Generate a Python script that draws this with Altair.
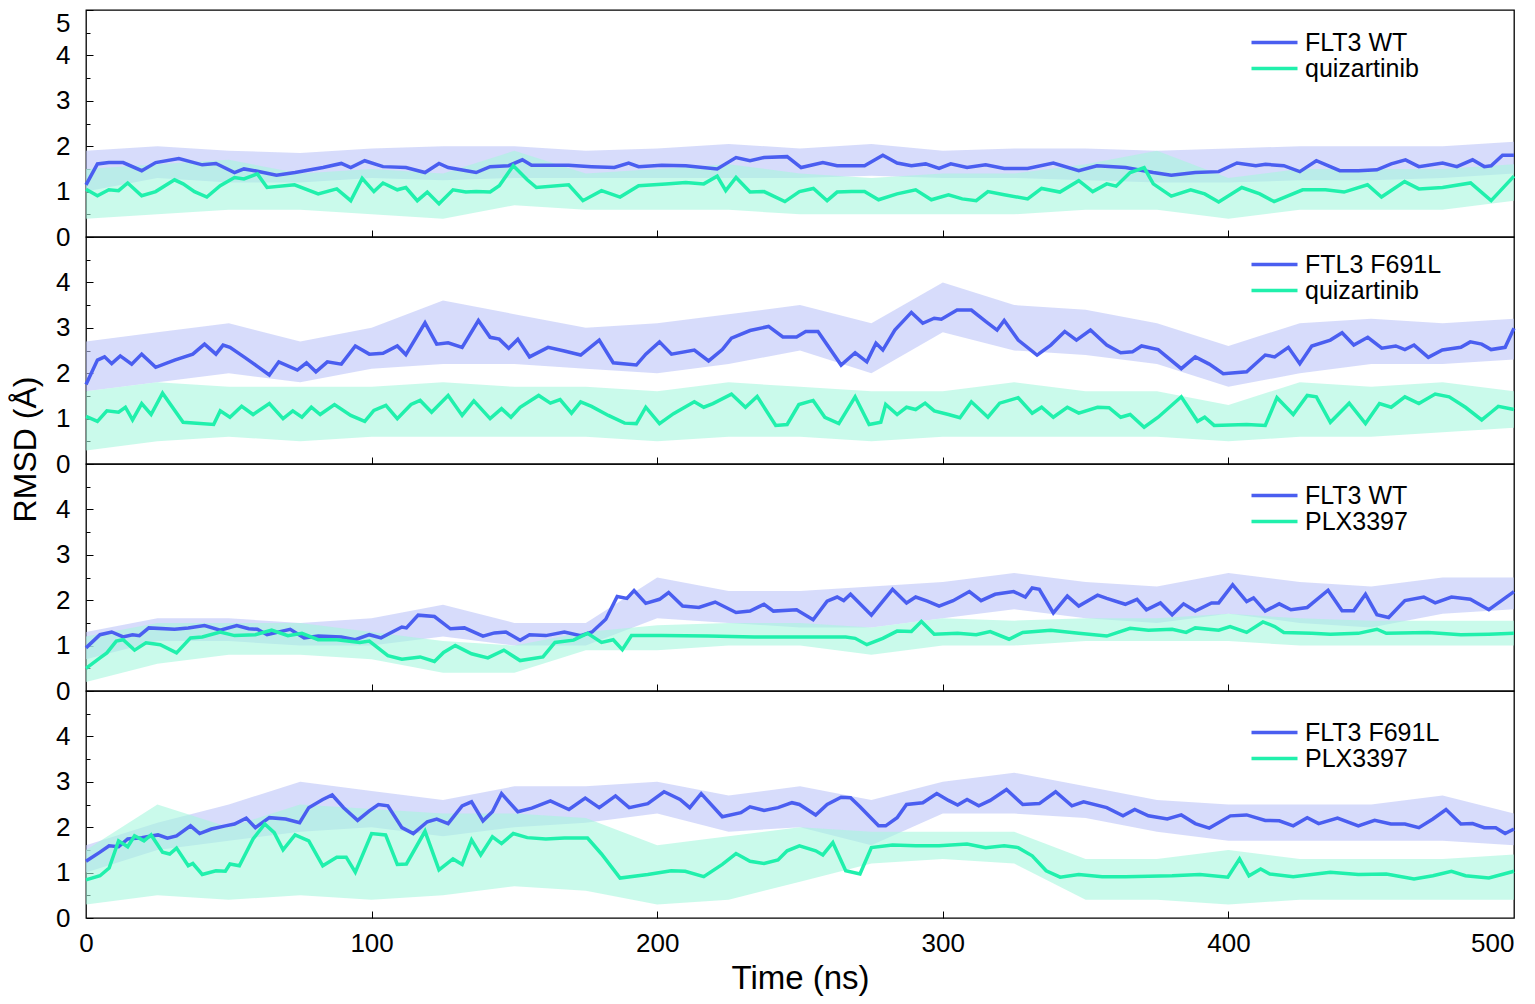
import altair as alt
import pandas as pd

BLUE = "#4a5ef0"
GREEN = "#20f0ac"
BLUE_RAW = "#bcc4f9"
GREEN_RAW = "#a6f6dd"
FONT = "Liberation Sans"
W, H = 1428, 227

legend_names = [["FLT3 WT", "quizartinib"], ["FTL3 F691L", "quizartinib"],
                ["FLT3 WT", "PLX3397"], ["FLT3 F691L", "PLX3397"]]
legend_y = [20, 15, 19, 29]

x_labels = [0, 100, 200, 300, 400, 500]
x_ticks = [100, 200, 300, 400]
y_labels_top = [0, 1, 2, 3, 4, 5]
y_labels = [0, 1, 2, 3, 4]
y_ticks = [0, 0.5, 1, 1.5, 2, 2.5, 3, 3.5, 4, 4.5, 5]

# ---- smoothed traces (time ns, RMSD A) ----
p1_blue = [(0,1.15),(4,1.61),(8,1.64),(13,1.64),(19.5,1.46),(24.4,1.64),(32.5,1.73),(40.7,1.59),(45.5,1.62),(52,1.42),(55.3,1.50),(60,1.45),(66.7,1.36),(73.2,1.42),(83,1.53),(89.4,1.62),(92.7,1.53),(97.6,1.68),(104,1.55),(112,1.53),(118.7,1.42),(123.6,1.62),(126.8,1.53),(136.6,1.42),(141.5,1.55),(148,1.57),(152.8,1.70),(156,1.58),(169,1.58),(177,1.55),(185,1.53),(190,1.63),(193.5,1.55),(201.6,1.58),(210,1.57),(221,1.50),(227.6,1.75),(232.5,1.68),(237.4,1.75),(245.5,1.77),(250.4,1.53),
           (258,1.64),(263,1.57),(272.6,1.57),(279,1.80),(284,1.63),(289,1.57),(294,1.61),(298.7,1.51),(302.8,1.61),(308.5,1.53),(315,1.59),(321.5,1.51),(329.7,1.51),(338.7,1.63),(347.6,1.46),(354,1.57),(364,1.53),(373.7,1.42),(380,1.36),(388.4,1.42),(396.6,1.44),(403,1.63),(409.6,1.57),(413,1.60),(419.4,1.57),(425,1.44),(430.8,1.68),(439,1.46),(445.5,1.46),(452,1.48),(457,1.61),(462,1.70),(466.7,1.55),(475,1.63),(480,1.55),(485.5,1.70),(489.6,1.55),(492,1.57),(496,1.80),(500,1.80)]
p1_green = [(0,1.05),(4,0.91),(8,1.04),(11.4,1.02),(14.6,1.19),(19.5,0.91),(24.4,1.0),(31,1.26),(34,1.17),(38,1.0),(42.3,0.88),(47,1.13),(52,1.31),(55.3,1.28),(60,1.39),(63.4,1.09),(73,1.15),(81.3,0.95),(87.8,1.06),(92.7,0.80),(96.7,1.29),(100.8,1.00),(104,1.19),(109,1.04),(112,1.09),(116,0.80),(119.5,0.99),(123.6,0.73),(128.5,1.04),(133,0.99),(136.6,1.0),(141.5,0.99),(144.7,1.13),(149.6,1.57),(154.5,1.26),(157.7,1.09),(169,1.15),(174,0.80),(180.5,1.02),(187,0.88),(193.5,1.13),(203,1.17),(210,1.20),(216.3,1.17),(221,1.34),(224,1.02),(227.6,1.31),(232.5,0.99),(237.4,1.0),(244.7,0.78),(249.8,1.0),
            (254.7,1.07),(259.5,0.80),(263,0.99),(268,1.0),(272.6,1.0),(277.5,0.82),(284,0.95),(290.5,1.04),(296,0.82),(302,0.93),(306.8,0.84),(311.7,0.80),(315.8,1.0),(321.5,0.93),(329.7,0.84),(334.6,1.07),(341,0.99),(347.6,1.24),(352.5,1.0),(357.4,1.17),(360.7,1.12),(365.6,1.42),(370.5,1.53),(373.7,1.17),(380,0.90),(386.8,1.04),(391.7,0.95),(396.6,0.77),(404.7,1.09),(411,0.95),(416,0.78),(426,1.04),(434,1.04),(440.5,0.99),(448.7,1.15),(453.6,0.88),(461.7,1.22),(466.7,1.06),(475,1.09),(484.8,1.19),(492,0.80),(500,1.34)]
p2_blue = [(0,1.75),(4,2.29),(6.5,2.36),(9,2.21),(12,2.38),(16,2.2),(19.5,2.42),(24.4,2.13),(31,2.29),(37.4,2.42),(41.5,2.64),(45.5,2.42),(48,2.62),(50.4,2.57),(55.3,2.36),(60,2.15),(64.2,1.96),(67.5,2.25),(74,2.07),(77.2,2.23),(80.5,2.03),(84.5,2.25),(89.4,2.2),(94.3,2.6),(99.2,2.42),(104,2.44),(109,2.6),(112,2.41),(118.7,3.11),(122.8,2.64),(126.8,2.67),(131.7,2.57),(137.4,3.16),(141.5,2.79),(144.7,2.75),(148,2.55),(151.2,2.75),(155.3,2.36),(161.8,2.57),(167.5,2.49),(173.2,2.40),(179.7,2.73),(184.6,2.23),(192.7,2.18),(196,2.42),(200.8,2.69),(205,2.42),(213,2.51),(218,2.27),(222.8,2.52),(226,2.77),(232.5,2.94),(239,3.03),(244,2.80),(248.8,2.80),(252,2.92),
           (256.3,2.92),(264.4,2.18),(269.3,2.45),(273.4,2.25),(276.6,2.66),(279,2.51),(283.2,2.95),(289,3.34),(293,3.10),(297,3.21),(299.5,3.19),(305,3.39),(310,3.39),(315,3.14),(319,2.95),(321.5,3.16),(326.4,2.73),(333,2.40),(337.8,2.62),(342.7,2.92),(346.8,2.73),(351.7,2.95),(357.4,2.62),(362.3,2.45),(366.4,2.47),(369.6,2.60),(375.4,2.52),(383.5,2.10),(388.4,2.36),(393.3,2.20),(398.2,1.99),(406.4,2.03),(412.9,2.40),(416.2,2.36),(421,2.57),(425,2.21),(429.2,2.60),(435.7,2.73),(439.8,2.89),(443.9,2.62),(448.8,2.79),(453.7,2.55),(458.6,2.60),(461.8,2.52),(465,2.62),(470,2.35),(474.9,2.51),(481.4,2.57),(484.7,2.69),(488.7,2.64),(492,2.52),(496.9,2.57),(500,2.99)]
p2_green = [(0,1.05),(4,0.94),(7.3,1.17),(11.4,1.14),(13.8,1.25),(16.3,0.97),(19.5,1.33),(22.8,1.09),(26.8,1.56),(34,0.92),(44.7,0.87),(47,1.17),(50.4,1.03),(54.5,1.27),(58.5,1.09),(64.2,1.33),(69,1.0),(72.4,1.17),(75.6,1.03),(78.9,1.25),(82,1.09),(87,1.31),(92.7,1.07),(97.6,0.94),(100.8,1.18),(105,1.29),(109,1.0),(113.8,1.31),(117,1.40),(121,1.14),(126.8,1.51),(131.7,1.07),(135.8,1.39),(141.5,1.0),(145.5,1.22),(148.8,1.03),(152,1.25),(158.5,1.51),(162.6,1.34),(166,1.42),(170,1.12),(173.2,1.37),(177,1.27),(182.9,1.07),(188.6,0.90),(192.7,0.89),(196,1.25),(200.8,0.89),(205.7,1.11),(213,1.37),(216.3,1.25),(219.5,1.33),(226,1.54),(230.9,1.25),(235,1.49),(241.5,0.85),(245.5,0.87),(249.6,1.31),
            (254.6,1.40),(258.7,1.03),(263.6,0.89),(269.3,1.48),(274.2,0.87),(278.3,0.92),(280,1.31),(284,1.09),(287.3,1.25),(290.5,1.20),(293.8,1.34),(297,1.17),(302,1.09),(306,1.02),(310,1.37),(315.8,1.03),(319.9,1.34),(326.4,1.46),(331.3,1.12),(334.6,1.25),(338.7,1.03),(343.6,1.25),(347.6,1.12),(354.2,1.25),(358.2,1.24),(362.3,1.03),(365.6,1.09),(370.5,0.81),(375.4,1.03),(383.5,1.48),(389.2,0.94),(391.7,1.03),(395,0.85),(406.4,0.87),(412.9,0.85),(417,1.46),(422.7,1.09),(427.6,1.51),(430.8,1.48),(435.7,0.92),(442.3,1.34),(448,0.89),(452.9,1.33),(457,1.25),(461.8,1.48),(466.7,1.33),(472.4,1.54),(477.3,1.48),(483,1.25),(488.7,0.97),(492,1.14),(494.5,1.27),(500,1.20)]
p3_blue = [(0,0.95),(4.9,1.24),(9,1.30),(13,1.19),(16.3,1.24),(18.7,1.22),(22,1.39),(31,1.36),(35.8,1.39),(41.5,1.44),(47,1.34),(52.8,1.44),(57,1.37),(60,1.36),(63.4,1.24),(71.5,1.36),(76.4,1.17),(81.3,1.21),(89.4,1.19),(94.3,1.13),(99.2,1.24),(103.3,1.17),(110.6,1.41),(112.2,1.39),(116.3,1.67),(122,1.64),(127.6,1.37),(132.5,1.39),(139,1.21),(143,1.28),(147,1.30),(152,1.12),(155.3,1.24),(161,1.22),(167.5,1.30),(173.2,1.22),(177.2,1.30),(182,1.58),(186,2.08),(189.4,2.04),(191.9,2.21),(196,1.93),(200.8,2.02),(204,2.17),(208.9,1.87),(214.6,1.84),(220.3,1.96),(227.6,1.73),(232.5,1.76),(237.4,1.91),(240.7,1.76),(248.8,1.79),
           (254.6,1.57),(259.5,1.98),(263,2.07),(265.3,1.99),(267.7,2.13),(275,1.67),(282.4,2.24),(287.3,1.94),(290.5,2.07),(294.6,1.98),(298.7,1.87),(303.6,1.99),(309.3,2.19),(313.4,1.99),(318.3,2.13),(324.8,2.19),(328.9,2.07),(331.3,2.27),(333.8,2.24),(338.7,1.72),(343.6,2.09),(347.6,1.87),(354.2,2.11),(357.4,2.04),(363.9,1.91),(368,2.02),(371.3,1.79),(376.2,1.94),(380.3,1.68),(384.3,1.92),(388.4,1.76),(394.1,1.94),(396.6,1.94),(401.5,2.34),(406.4,1.97),(408.8,2.05),(412.9,1.76),(417.8,1.92),(421.9,1.79),(427.6,1.84),(434.9,2.22),(439.8,1.77),(443.9,1.77),(448,2.13),(452,1.68),(456.1,1.62),(461.8,1.99),(468.4,2.07),(472.4,1.94),(478.1,2.07),(484.7,2.02),(491.2,1.79),(494.5,1.94),(500,2.19)]
p3_green = [(0,0.5),(4.9,0.73),(7.3,0.84),(10.6,1.10),(13,1.13),(17,0.90),(21,1.06),(26,1.02),(31.7,0.84),(36.6,1.17),(40.7,1.19),(47,1.30),(52,1.22),(59.3,1.24),(65,1.34),(70.7,1.22),(75.6,1.27),(81.3,1.13),(87.8,1.13),(95.9,1.07),(99.2,1.10),(105.7,0.78),(110.6,0.70),(117,0.75),(122,0.65),(125.2,0.85),(129.3,1.0),(135,0.82),(140.7,0.73),(146.3,0.90),(152,0.67),(160,0.75),(164.2,1.07),(170.7,1.12),(175.6,1.27),(180.5,1.07),(184.6,1.13),(187.8,0.91),(191,1.22),(201.6,1.22),(217.9,1.21),(234,1.19),(249.8,1.19),
            (266,1.19),(269.3,1.16),(273.4,1.02),(279,1.16),(284,1.32),(289,1.31),(292.5,1.53),(297,1.25),(305.2,1.27),(311.7,1.24),(316.6,1.31),(323.2,1.14),(328,1.29),(337.8,1.34),(347.6,1.27),(357.4,1.21),(365.6,1.38),(372,1.34),(380.3,1.36),(385.2,1.29),(388.4,1.39),(396.6,1.34),(400.6,1.42),(406.4,1.29),(412.1,1.52),(416.2,1.42),(419.4,1.29),(429.2,1.27),(435.7,1.25),(445.5,1.27),(452,1.36),(455.3,1.27),(470,1.29),(481.4,1.24),(491.2,1.25),(500,1.27)]
p4_blue = [(0,1.25),(4.9,1.45),(8.1,1.59),(11.4,1.57),(14.6,1.74),(19.5,1.77),(25.2,1.83),(28.5,1.76),(31.7,1.81),(36.6,2.03),(39.8,1.86),(43.9,1.96),(48.8,2.03),(52,2.07),(56.1,2.20),(59.3,1.99),(64.2,2.21),(69.9,2.18),(74.8,2.10),(78,2.43),(82.9,2.61),(86.2,2.71),(90.2,2.43),(95.1,2.15),(99.2,2.36),(102.4,2.50),(105.7,2.47),(110.6,1.99),(114.6,1.86),(119.5,2.12),(122.8,2.18),(126.8,2.08),(131.7,2.47),(135,2.56),(139,2.14),(142.3,2.34),(145.5,2.74),(151.2,2.34),(156.1,2.42),(162.6,2.58),(169.1,2.39),(174.8,2.64),(179.7,2.43),(185.4,2.69),(190.2,2.43),(196.7,2.52),(202.4,2.78),(208,2.61),(211.4,2.43),(215.4,2.74),(222.8,2.23),(229.3,2.32),(232.5,2.45),(237.4,2.37),(242.3,2.43),(247.2,2.54),
           (249.8,2.50),(255.5,2.27),(259.5,2.50),(264.4,2.66),(267.7,2.65),(271,2.45),(277.5,2.03),(280,2.03),(284,2.21),(287.3,2.50),(293,2.54),(297.9,2.74),(302,2.59),(305.2,2.49),(308.5,2.61),(312.6,2.47),(316.6,2.59),(322.3,2.83),(328,2.50),(333.8,2.52),(339.5,2.78),(345.2,2.47),(349.3,2.56),(357.4,2.43),(363.1,2.25),(367.2,2.39),(372,2.25),(378.6,2.18),(383.5,2.27),(388.4,2.08),(393.3,1.98),(400.7,2.25),(406.4,2.27),(412.9,2.15),(417.8,2.14),(422.7,2.03),(427.6,2.21),(431.6,2.08),(438.2,2.20),(445.5,2.03),(451.2,2.15),(456.9,2.07),(461.8,2.07),(466.7,1.99),(471.6,2.18),(476.2,2.39),(481.4,2.07),(485.5,2.08),(489.6,1.99),(493.6,1.99),(496.9,1.86),(500,1.96)]
p4_green = [(0,0.84),(4.9,0.93),(8.1,1.10),(11.4,1.70),(14.6,1.57),(17,1.81),(20.3,1.70),(22.8,1.83),(26.8,1.45),(29.3,1.41),(31.7,1.54),(35.8,1.15),(37.4,1.20),(40.7,0.96),(45.5,1.04),(48.8,1.03),(50.4,1.19),(53.7,1.15),(58.5,1.74),(62.6,2.07),(65.9,1.88),(69,1.50),(73.2,1.83),(78,1.70),(82.9,1.15),(87.8,1.34),(91.1,1.34),(94.3,1.01),(100,1.86),(104.9,1.83),(109,1.18),(112.2,1.19),(118.7,1.91),(123.6,1.06),(128.5,1.30),(131.7,1.18),(135,1.72),(138.2,1.39),(142.3,1.79),(145.5,1.64),(149.6,1.86),(154.5,1.77),(161,1.74),(167.5,1.76),(175.6,1.76),(180.5,1.41),(187,0.88),(196.7,0.96),(204.9,1.04),(209.8,1.03),(216.3,0.91),(222.8,1.18),(227.6,1.42),(232.5,1.25),(237.4,1.20),(242.3,1.28),(245.5,1.48),
            (249.8,1.59),(255.5,1.48),(258,1.39),(261.5,1.66),(266,1.04),(271,0.97),(275,1.55),(282.4,1.61),(290.5,1.59),(298.7,1.59),(308.5,1.63),(315,1.55),(321.5,1.59),(326.4,1.55),(331.3,1.37),(336.2,1.04),(341.1,0.90),(347.6,0.96),(355.8,0.91),(363.9,0.91),(380.3,0.93),(390,0.96),(399.8,0.90),(403.9,1.30),(407.2,0.93),(411.3,1.08),(414.5,0.97),(422.7,0.91),(435.7,1.01),(445.5,0.96),(455.3,0.97),(465,0.86),(471.6,0.93),(478.1,1.03),(483,0.93),(491.2,0.88),(500,1.03)]

# ---- raw-trace envelopes (light background), every 25 ns ----
ENV_T = [0, 25, 50, 75, 100, 125, 150, 175, 200, 225, 250, 275, 300, 325, 350, 375, 400, 425, 450, 475, 500]
p1_blue_lo = [1.0,1.3,1.2,1.2,1.3,1.25,1.3,1.3,1.3,1.3,1.3,1.35,1.3,1.3,1.25,1.2,1.2,1.25,1.25,1.3,1.4]
p1_blue_hi = [1.9,2.0,1.9,1.85,1.95,2.0,2.0,1.9,1.95,2.05,1.95,2.05,1.9,1.95,1.95,1.9,1.95,2.0,2.0,2.0,2.1]
p1_green_lo = [0.4,0.5,0.6,0.6,0.5,0.4,0.7,0.6,0.6,0.6,0.5,0.5,0.5,0.5,0.6,0.6,0.4,0.6,0.6,0.6,0.8]
p1_green_hi = [1.5,1.6,1.7,1.4,1.5,1.4,1.9,1.4,1.5,1.6,1.4,1.3,1.4,1.4,1.6,1.9,1.3,1.5,1.5,1.5,1.6]
p2_blue_lo = [1.6,1.8,2.0,1.8,2.1,2.2,2.2,2.1,2.0,2.2,2.5,2.0,2.9,2.5,2.4,2.2,1.7,2.0,2.2,2.2,2.3]
p2_blue_hi = [2.7,2.9,3.1,2.7,3.0,3.6,3.3,3.0,3.1,3.3,3.5,3.1,4.0,3.5,3.4,3.1,2.6,3.1,3.2,3.1,3.2]
p2_green_lo = [0.3,0.5,0.6,0.5,0.6,0.6,0.6,0.6,0.5,0.6,0.6,0.5,0.6,0.6,0.6,0.6,0.5,0.6,0.6,0.7,0.8]
p2_green_hi = [1.6,1.8,1.7,1.7,1.7,1.8,1.7,1.7,1.6,1.8,1.7,1.6,1.6,1.8,1.6,1.6,1.3,1.8,1.7,1.8,1.6]
p3_blue_lo = [0.7,1.1,1.1,1.0,1.0,1.2,1.0,1.0,1.6,1.5,1.4,1.4,1.6,1.8,1.6,1.5,1.7,1.5,1.4,1.7,1.8]
p3_blue_hi = [1.3,1.6,1.6,1.5,1.6,1.9,1.5,1.5,2.5,2.2,2.2,2.3,2.4,2.6,2.4,2.3,2.6,2.4,2.3,2.5,2.5]
p3_green_lo = [0.2,0.6,0.8,0.8,0.7,0.4,0.4,0.9,0.9,1.0,1.0,0.8,1.0,1.0,1.1,1.1,1.1,1.0,1.0,1.0,1.0]
p3_green_hi = [1.2,1.5,1.5,1.5,1.3,1.1,1.0,1.3,1.45,1.5,1.5,1.4,1.6,1.55,1.6,1.6,1.7,1.6,1.55,1.55,1.55]
p4_blue_lo = [1.0,1.5,1.7,1.9,2.0,1.8,2.0,2.1,2.3,1.9,2.0,1.6,2.3,2.3,2.2,1.9,1.7,1.7,1.7,1.7,1.6]
p4_blue_hi = [1.6,2.1,2.5,3.0,2.8,2.6,2.9,2.9,3.0,2.7,2.9,2.6,3.0,3.2,2.9,2.6,2.5,2.5,2.5,2.7,2.3]
p4_green_lo = [0.3,0.5,0.4,0.5,0.4,0.5,0.7,0.6,0.3,0.4,0.8,1.2,1.3,1.2,0.4,0.4,0.3,0.4,0.4,0.4,0.4]
p4_green_hi = [1.5,2.5,2.0,2.5,2.4,2.3,2.3,2.2,1.6,1.8,2.0,1.9,1.9,1.9,1.3,1.3,1.5,1.3,1.3,1.3,1.4]

panels_data = [
    (p1_blue, p1_green, (p1_blue_lo, p1_blue_hi, p1_green_lo, p1_green_hi)),
    (p2_blue, p2_green, (p2_blue_lo, p2_blue_hi, p2_green_lo, p2_green_hi)),
    (p3_blue, p3_green, (p3_blue_lo, p3_blue_hi, p3_green_lo, p3_green_hi)),
    (p4_blue, p4_green, (p4_blue_lo, p4_blue_hi, p4_green_lo, p4_green_hi)),
]


def make_panel(i):
    blue_pts, green_pts, env = panels_data[i]
    pname, lname = legend_names[i]
    dfb = pd.DataFrame(blue_pts, columns=["t", "v"])
    dfb["s"] = pname
    dfg = pd.DataFrame(green_pts, columns=["t", "v"])
    dfg["s"] = lname
    dfe = pd.DataFrame({"t": ENV_T, "blo": env[0], "bhi": env[1], "glo": env[2], "ghi": env[3]})

    xs = alt.Scale(domain=[0, 500], nice=False)
    ys = alt.Scale(domain=[0, 5], nice=False)

    # label axes (no ticks)
    if i == 3:
        x_lab = alt.X("t:Q", scale=xs, axis=alt.Axis(
            values=x_labels, tickSize=0, domain=False, grid=False, labelPadding=12,
            labelFontSize=26, labelFlush=False,
            labelAlign={"condition": {"test": "datum.value === 500", "value": "right"}, "value": "center"},
            title="Time (ns)", titleFontSize=33,
            titleFontWeight="normal", titlePadding=6))
    else:
        x_lab = alt.X("t:Q", scale=xs, axis=None)

    y_axis_kwargs = dict(
        values=(y_labels_top if i == 0 else y_labels), tickSize=0, domain=False, grid=False,
        labelPadding=16, labelFontSize=26, labelFlush=False,
        labelBaseline={"condition": {"test": "datum.value === 5", "value": "top"}, "value": "middle"},
    )
    if i == 1:
        y_axis_kwargs.update(title="RMSD (Å)", titleFontSize=32, titleFontWeight="normal",
                             titleX=-44, titleY=212, titleAngle=-90, titleAlign="center",
                             titleBaseline="bottom")
    else:
        y_axis_kwargs.update(title=None)
    y_lab = alt.Y("blo:Q", scale=ys, axis=alt.Axis(**y_axis_kwargs))

    blue_band = alt.Chart(dfe).mark_area(color=BLUE_RAW, opacity=0.6).encode(
        x=x_lab, y=y_lab, y2="bhi:Q")
    green_band = alt.Chart(dfe).mark_area(color=GREEN_RAW, opacity=0.6).encode(
        x=alt.X("t:Q", scale=xs, axis=None),
        y=alt.Y("glo:Q", scale=ys, axis=None), y2="ghi:Q")

    leg = alt.Legend(orient="none", legendX=1176, legendY=legend_y[i], title=None,
                     symbolType="M-4.6,0L4.6,0", symbolSize=100, symbolStrokeWidth=3.5,
                     labelFontSize=25, labelFont=FONT, labelOffset=18, rowPadding=0,
                     padding=0, labelColor="black")
    cscale = alt.Scale(domain=[pname, lname], range=[BLUE, GREEN])

    blue_line = alt.Chart(dfb).mark_line(strokeWidth=3.5).encode(
        x=alt.X("t:Q", scale=xs, axis=alt.Axis(
            orient="top", offset=-H, values=x_ticks, labels=False, domain=False,
            grid=False, tickSize=7, tickColor="black", title=None)),
        y=alt.Y("v:Q", scale=ys, axis=alt.Axis(
            orient="right", offset=-W, values=y_ticks, labels=False, domain=False,
            grid=False, tickColor="black", title=None,
            tickSize={"condition": {"test": "datum.value % 1 === 0", "value": 7}, "value": 4})),
        color=alt.Color("s:N", scale=cscale, legend=leg),
    )
    green_line = alt.Chart(dfg).mark_line(strokeWidth=3.5).encode(
        x=alt.X("t:Q", scale=xs, axis=None),
        y=alt.Y("v:Q", scale=ys, axis=None),
        color=alt.Color("s:N", scale=cscale, legend=leg),
    )
    return alt.layer(blue_band, green_band, blue_line, green_line).resolve_axis(
        x="independent", y="independent").properties(width=W, height=H)


panels = [make_panel(i) for i in range(4)]

chart = alt.vconcat(*panels, spacing=0, bounds="flush").resolve_scale(
    color="independent"
).properties(
    padding={"left": 0, "top": 0, "right": 0, "bottom": 0}
).configure_view(
    stroke="black", strokeWidth=1.3
).configure_axis(
    labelFont=FONT, titleFont=FONT, labelColor="black", titleColor="black"
)

chart.save("out.html", embed_options={"renderer": "svg", "actions": False})
